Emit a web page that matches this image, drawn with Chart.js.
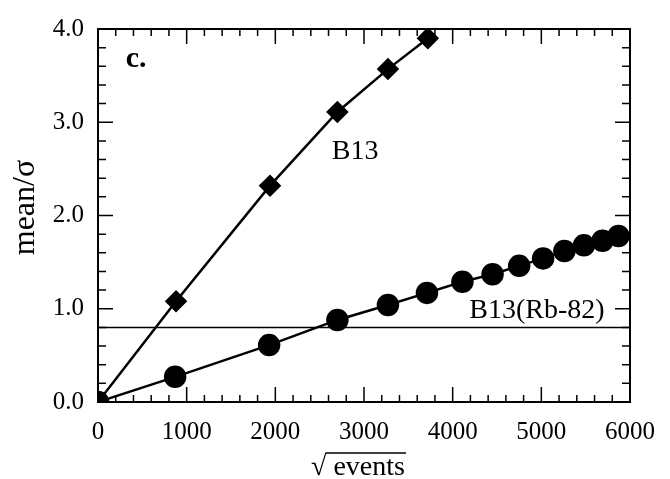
<!DOCTYPE html>
<html>
<head>
<meta charset="utf-8">
<script src="https://cdn.jsdelivr.net/npm/chart.js@4.4.1/dist/chart.umd.min.js"></script>
<style>
  html, body { margin: 0; padding: 0; background: #fff; }
  #wrap { width: 670px; height: 479px; }
</style>
</head>
<body>
<div id="wrap"><canvas id="myChart" width="670" height="479"></canvas></div>
<script>
// values
const xB13 = [0, 880, 1940, 2700, 3270, 3720];
const yB13 = [0, 1.08, 2.32, 3.11, 3.57, 3.90];

const xRb82 = [0, 870, 1930, 2700, 3270, 3710, 4110, 4450, 4750, 5020, 5260, 5480, 5690, 5870];
const yRb82 = [0, 0.27, 0.61, 0.88, 1.04, 1.17, 1.29, 1.37, 1.46, 1.54, 1.62, 1.68, 1.73, 1.78];

const threshold = 0.8;

const xTicks = [0, 1000, 2000, 3000, 4000, 5000, 6000];
const yTicks = [0, 1, 2, 3, 4];

// text labels inside the plot: [text, x, y, bold]
const notes = [
  ['c.', 430, 3.68, true],
  ['B13', 2900, 2.68, false],
  ['B13(Rb-82)', 4950, 0.98, false]
];

const SERIF = '"Liberation Serif", "DejaVu Serif", serif';

function pts(xs, ys) {
  return xs.map((x, i) => ({ x: x, y: ys[i] }));
}

// frame, inward ticks, notes and the axis titles
const decor = {
  id: 'decor',
  afterDraw(chart) {
    const ctx = chart.ctx;
    const xs = chart.scales.x, ys = chart.scales.y;
    const a = chart.chartArea;
    ctx.save();
    ctx.strokeStyle = '#000';
    ctx.lineWidth = 2;
    ctx.strokeRect(a.left, a.top, a.right - a.left, a.bottom - a.top);

    ctx.lineWidth = 1.5;
    ctx.beginPath();
    for (let v = 0; v <= 6000; v += 200) {
      const px = xs.getPixelForValue(v);
      const len = v % 1000 === 0 ? 15 : 7;
      ctx.moveTo(px, a.bottom); ctx.lineTo(px, a.bottom - len);
      ctx.moveTo(px, a.top); ctx.lineTo(px, a.top + len);
    }
    for (let i = 0; i <= 20; i++) {
      const v = i * 0.2;
      const py = ys.getPixelForValue(v);
      const len = i % 5 === 0 ? 15 : 8;
      ctx.moveTo(a.left, py); ctx.lineTo(a.left + len, py);
      ctx.moveTo(a.right, py); ctx.lineTo(a.right - len, py);
    }
    ctx.stroke();

    ctx.fillStyle = '#000';
    ctx.textAlign = 'center';
    ctx.textBaseline = 'middle';
    notes.forEach(n => {
      ctx.font = (n[3] ? 'bold 30px ' : '28px ') + SERIF;
      ctx.fillText(n[0], xs.getPixelForValue(n[1]), ys.getPixelForValue(n[2]));
    });

    // y title
    ctx.save();
    ctx.font = '32px ' + SERIF;
    ctx.textBaseline = 'alphabetic';
    ctx.translate(34, (a.top + a.bottom) / 2 - 8);
    ctx.rotate(-Math.PI / 2);
    ctx.fillText('mean/\u03C3', 0, 0);
    ctx.restore();

    // x title: square root of events
    ctx.font = '28px ' + SERIF;
    ctx.textBaseline = 'alphabetic';
    ctx.textAlign = 'left';
    const rad = '\u221A';
    const word = ' events';
    const wr = ctx.measureText(rad).width;
    const ww = ctx.measureText(word).width;
    const cx = (a.left + a.right) / 2 - 6;
    const x0 = cx - (wr + ww) / 2;
    const base = a.bottom + 73;
    ctx.fillText(rad, x0, base);
    ctx.fillText(word, x0 + wr, base);
    const top = base - ctx.measureText(rad).actualBoundingBoxAscent + 1;
    ctx.lineWidth = 1.5;
    ctx.beginPath();
    ctx.moveTo(x0 + wr - 1, top);
    ctx.lineTo(x0 + wr + ww + 1, top);
    ctx.stroke();
    ctx.restore();
  }
};

const ctx = document.getElementById('myChart').getContext('2d');
const myChart = new Chart(ctx, {
  type: 'scatter',
  data: {
    datasets: [
      {
        label: 'B13',
        data: pts(xB13, yB13),
        showLine: true,
        borderColor: '#000',
        backgroundColor: '#000',
        borderWidth: 2.5,
        pointStyle: 'rectRot',
        pointRadius: 9.5,
        pointHoverRadius: 9.5
      },
      {
        label: 'B13(Rb-82)',
        data: pts(xRb82, yRb82),
        showLine: true,
        borderColor: '#000',
        backgroundColor: '#000',
        borderWidth: 2.5,
        pointStyle: 'circle',
        pointRadius: 10,
        pointHoverRadius: 10
      },
      {
        label: 'threshold',
        data: [{ x: xTicks[0], y: threshold }, { x: xTicks[xTicks.length - 1], y: threshold }],
        showLine: true,
        borderColor: '#000',
        borderWidth: 1.5,
        pointRadius: 0
      }
    ]
  },
  options: {
    responsive: false,
    animation: false,
    events: [],
    layout: { padding: { top: 20, right: 29, left: 0, bottom: 0 } },
    plugins: {
      legend: { display: false },
      tooltip: { enabled: false }
    },
    scales: {
      x: {
        type: 'linear',
        min: 0,
        max: 6000,
        afterFit: s => { s.height = 77; },
        afterBuildTicks: s => { s.ticks = xTicks.map(v => ({ value: v })); },
        grid: { display: false, drawTicks: false },
        border: { display: false },
        ticks: {
          color: '#000',
          padding: 15,
          maxRotation: 0,
          font: { family: SERIF, size: 25 },
          callback: v => String(v)
        }
      },
      y: {
        type: 'linear',
        min: 0,
        max: 4,
        afterFit: s => { s.width = 98; },
        afterBuildTicks: s => { s.ticks = yTicks.map(v => ({ value: v })); },
        grid: { display: false, drawTicks: false },
        border: { display: false },
        ticks: {
          color: '#000',
          padding: 14,
          font: { family: SERIF, size: 25 },
          callback: v => v.toFixed(1)
        }
      }
    }
  },
  plugins: [decor]
});
</script>
</body>
</html>
